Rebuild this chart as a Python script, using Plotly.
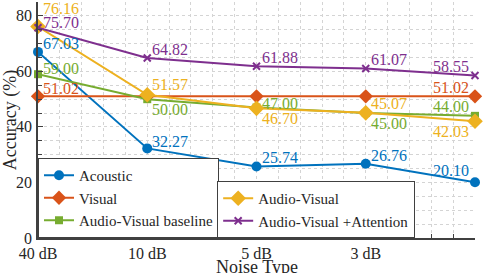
import plotly.graph_objects as go

# ---- data ----
noise_labels = ["40 dB", "10 dB", "5 dB", "3 dB", "0 dB"]
acoustic = [67.03, 32.27, 25.74, 26.76, 20.10]
visual = [51.02, 51.02, 51.02, 51.02, 51.02]
av_baseline = [59.00, 50.00, 47.00, 45.00, 44.00]
audio_visual = [76.16, 51.57, 46.70, 45.07, 42.03]
av_attention = [75.70, 64.82, 61.88, 61.07, 58.55]
y_ticks = [0, 20, 40, 60, 80]
y_ticktext = ["0", "20", "40", "60", "80"]
Y_MAX = 85

series_names = ["Acoustic", "Visual", "Audio-Visual baseline",
                "Audio-Visual", "Audio-Visual +Attention"]
series_values = [acoustic, visual, av_baseline, audio_visual, av_attention]

# ---- style ----
colors = ["#0072BD", "#D95319", "#77AC30", "#EDB120", "#7E2F8E"]
symbols = ["circle", "diamond", "square", "diamond", "x-thin"]
msizes = [10, 11, 8, 12, 7]
legend_ids = ["legend", "legend", "legend", "legend2", "legend2"]
# label vertical shift (px, positive = up); None = no label
label_shift = [
    [8, 7, 9.5, 8.6, 12],
    [8, None, None, None, 9],
    [6, -10, 4.5, -10, 9],
    [18, 10, -10, 9, -10],
    [5, 9, 9, 9, 9],
]
FONT = "'Liberation Serif', 'Times New Roman', 'DejaVu Serif', serif"
AX = "#404040"
TXT = "#262626"

x_pos = list(range(len(noise_labels)))
fig = go.Figure()
for name, vals, c, s, ms, lg in zip(series_names, series_values, colors,
                                    symbols, msizes, legend_ids):
    mk = dict(symbol=s, size=ms, color=c)
    if s == "x-thin":
        mk["line"] = dict(color=c, width=2)
    fig.add_trace(go.Scatter(x=x_pos, y=vals, mode="lines+markers", name=name,
                             line=dict(color=c, width=2), marker=mk, legend=lg,
                             cliponaxis=False))

annotations = []
n = len(x_pos)
for vals, c, shifts in zip(series_values, colors, label_shift):
    for i, (v, sh) in enumerate(zip(vals, shifts)):
        if sh is None:
            continue
        if i == n - 1:
            xa, xs = "right", -4
        else:
            xa, xs = "left", 3
        annotations.append(dict(x=x_pos[i], y=v, text=f"{v:.2f}", showarrow=False,
                                xanchor=xa, yanchor="middle", xshift=xs, yshift=sh,
                                font=dict(family=FONT, size=16, color=c)))

# y-axis tick labels drawn as text in paper coordinates (fraction of the y range)
for t, tt in zip(y_ticks, y_ticktext):
    annotations.append(dict(xref="paper", yref="paper", x=0, y=t / Y_MAX, text=tt,
                            showarrow=False, xanchor="right", yanchor="middle",
                            xshift=-4, font=dict(family=FONT, size=16, color=TXT)))
# x-axis title
annotations.append(dict(xref="paper", yref="paper", x=0.5, y=0, text="Noise Type",
                        showarrow=False, xanchor="center", yanchor="middle",
                        yshift=-29, font=dict(family=FONT, size=18, color=TXT)))

grid = dict(showgrid=True, gridcolor="#d4d4d4", griddash="dot", gridwidth=1)
fig.update_layout(
    width=485, height=273,
    margin=dict(l=38, r=10, t=2, b=35, pad=0, autoexpand=False),
    paper_bgcolor="white", plot_bgcolor="white",
    font=dict(family=FONT, size=16, color=TXT),
    annotations=annotations,
    legend=dict(x=0, y=0, xanchor="left", yanchor="bottom", bgcolor="white",
                bordercolor=AX, borderwidth=1, font=dict(family=FONT, size=15),
                tracegroupgap=0, itemwidth=30),
    legend2=dict(x=0.41, y=0, xanchor="left", yanchor="bottom", bgcolor="white",
                 bordercolor=AX, borderwidth=1, font=dict(family=FONT, size=15),
                 tracegroupgap=0, itemwidth=30),
    xaxis=dict(range=[0, 4], tickvals=x_pos, ticktext=noise_labels,
               ticks="inside", ticklen=5, tickcolor=AX, showline=True,
               linecolor=AX, linewidth=1.5, zeroline=False,
               tickfont=dict(family=FONT, size=16),
               minor=dict(dtick=0.2, ticks="inside", ticklen=4, tickcolor=AX, **grid),
               automargin=False, **grid),
    yaxis=dict(range=[0, Y_MAX], tickmode="array", tickvals=y_ticks,
               ticktext=[""] * len(y_ticks), ticks="inside",
               ticklen=5, tickcolor=AX, showline=True, linecolor=AX, linewidth=1.5,
               zeroline=False, tickfont=dict(family=FONT, size=16),
               minor=dict(tick0=0, dtick=5, ticks="inside", ticklen=4, tickcolor=AX, **grid),
               title=dict(text="Accuracy (%)", font=dict(family=FONT, size=18), standoff=18),
               automargin=False, **grid),
)
fig.write_html("out.html", config={"displayModeBar": False},
               post_script="document.body.style.margin='0px';document.body.style.overflow='hidden';")
